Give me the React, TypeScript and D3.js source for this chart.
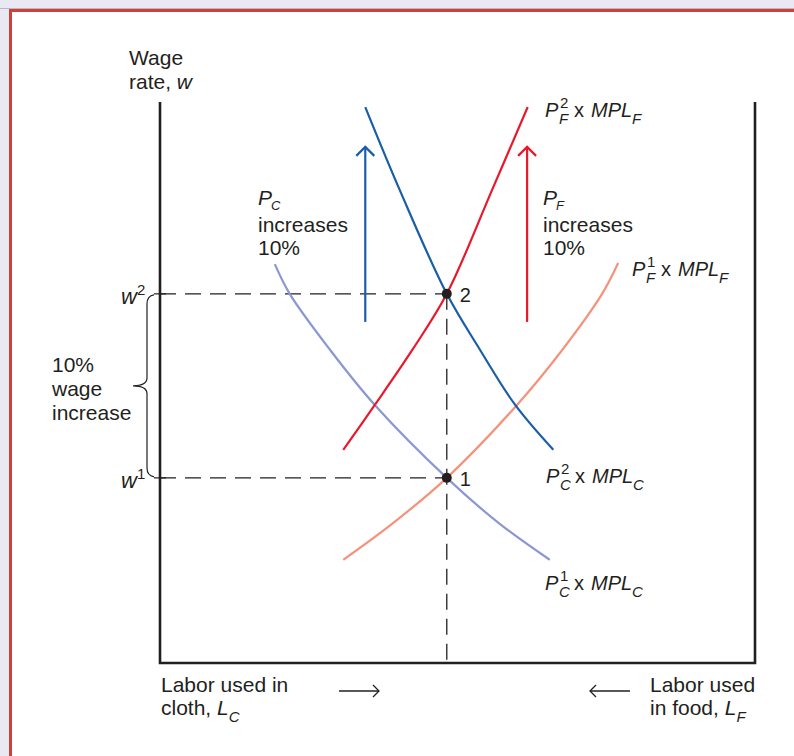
import React from "react";
import * as d3 from "d3";

// ---- data (labor units 0..100 along the box, wage units 0..100) ----
const laborEq = 48.2;
const wageLevels = [33.0, 65.8]; // w1, w2
const wageTickLabels = ["1", "2"];

const pc1X = [19.3, 21.8, 28.6, 36.1, 48.2, 57.1, 65.5];
const pc1Y = [71.1, 65.8, 55.8, 46.0, 33.0, 24.8, 18.4];

const pc2X = [34.5, 40.3, 48.2, 53.8, 59.7, 66.1];
const pc2Y = [99.1, 84.3, 65.8, 55.8, 46.0, 38.0];

const pf1X = [30.8, 39.0, 48.2, 60.0, 67.6, 74.3, 77.0];
const pf1Y = [18.4, 24.8, 33.0, 46.0, 55.8, 65.8, 71.3];

const pf2X = [30.8, 36.1, 42.4, 48.2, 55.8, 61.8];
const pf2Y = [38.0, 46.0, 55.8, 65.8, 84.3, 99.1];

const shiftArrowX = [34.5, 61.7]; // PC arrow, PF arrow
const shiftArrowY = [60.8, 92.0]; // from, to

const W = 794;
const H = 756;
const FONT = "'Liberation Sans', Arial, Helvetica, sans-serif";
const INK = "#231f20";

const C_DARKBLUE = "#1b5ea8";
const C_LIGHTBLUE = "#8a97d3";
const C_RED = "#e8192c";
const C_SALMON = "#f4937b";

const x = d3.scaleLinear().domain([0, 100]).range([160, 755]);
const y = d3.scaleLinear().domain([0, 100]).range([663, 102]);

const zip = (xs: number[], ys: number[]) => xs.map((v, i) => [v, ys[i]] as [number, number]);

const line = d3
  .line<[number, number]>()
  .x((d) => x(d[0]))
  .y((d) => y(d[1]))
  .curve(d3.curveCatmullRom.alpha(0.5));

function CurveLabel({ px, py, sub, sup }: { px: number; py: number; sub: string; sup: string }) {
  return (
    <g fontFamily={FONT} fill={INK}>
      <text x={px} y={py} fontSize={20} fontStyle="italic">P</text>
      <text x={px + 15} y={py - 9} fontSize={15}>{sup}</text>
      <text x={px + 14} y={py + 7} fontSize={15} fontStyle="italic">{sub}</text>
      <text x={px + 29} y={py} fontSize={20}>x</text>
      <text x={px + 46} y={py} fontSize={20} fontStyle="italic">MPL</text>
      <text x={px + 87} y={py + 7} fontSize={15} fontStyle="italic">{sub}</text>
    </g>
  );
}

function IncLabel({ px, py, sub }: { px: number; py: number; sub: string }) {
  return (
    <g fontFamily={FONT} fill={INK} fontSize={21}>
      <text x={px} y={py - 2} fontStyle="italic">P</text>
      <text x={px + 13} y={py + 3} fontSize={13} fontStyle="italic">{sub}</text>
      <text x={px} y={py + 25}>increases</text>
      <text x={px} y={py + 48}>10%</text>
    </g>
  );
}

function UpArrow({ lx, color }: { lx: number; color: string }) {
  const X = x(lx);
  const y0 = y(shiftArrowY[0]);
  const y1 = y(shiftArrowY[1]);
  return (
    <g stroke={color} strokeWidth={2.2} fill="none">
      <line x1={X} x2={X} y1={y0} y2={y1} />
      <path d={`M${X - 9},${y1 + 9} L${X},${y1} L${X + 9},${y1 + 9}`} />
    </g>
  );
}

export default function App() {
  const xe = x(laborEq);
  const yw1 = y(wageLevels[0]);
  const yw2 = y(wageLevels[1]);
  const braceX = 147;
  const braceMid = (yw1 + yw2) / 2;
  const brace = `M154,${yw2 + 1} Q${braceX},${yw2 + 2} ${braceX},${yw2 + 10} L${braceX},${braceMid - 8} Q${braceX},${braceMid} ${braceX - 14},${braceMid} Q${braceX},${braceMid} ${braceX},${braceMid + 8} L${braceX},${yw1 - 10} Q${braceX},${yw1 - 2} 154,${yw1 - 1}`;

  return (
    <svg
      width={W}
      height={H}
      viewBox={`0 0 ${W} ${H}`}
      style={{ position: "absolute", left: 0, top: 0, display: "block" }}
    >
      <rect x={0} y={0} width={W} height={H} fill="#e9e9f3" />
      <rect x={9} y={9} width={W} height={H} fill="#ffffff" />
      <line x1={0} x2={W} y1={8.5} y2={8.5} stroke="#b9b9c4" strokeWidth={1} />
      <line x1={10.5} x2={10.5} y1={9} y2={H} stroke="#cc4239" strokeWidth={3} />
      <line x1={9} x2={W} y1={10.5} y2={10.5} stroke="#cc4239" strokeWidth={3} />

      {/* dashed guides */}
      <g stroke={INK} strokeWidth={1.3} strokeDasharray="16 9" fill="none">
        <line x1={x(0)} x2={xe} y1={yw2} y2={yw2} />
        <line x1={x(0)} x2={xe} y1={yw1} y2={yw1} />
        <line x1={xe} x2={xe} y1={yw2} y2={y(0)} />
      </g>

      {/* ticks and brace */}
      <g stroke={INK} strokeWidth={1.2} fill="none">
        <line x1={154} x2={166} y1={yw2} y2={yw2} />
        <line x1={154} x2={166} y1={yw1} y2={yw1} />
        <path d={brace} />
      </g>

      {/* box axes */}
      <path
        d={`M${x(0)},${y(100)} L${x(0)},${y(0)} L${x(100)},${y(0)} L${x(100)},${y(100)}`}
        stroke={INK}
        strokeWidth={2.6}
        fill="none"
      />

      {/* curves */}
      <g fill="none" strokeWidth={2.2}>
        <path d={line(zip(pc1X, pc1Y)) || ""} stroke={C_LIGHTBLUE} />
        <path d={line(zip(pf1X, pf1Y)) || ""} stroke={C_SALMON} />
        <path d={line(zip(pf2X, pf2Y)) || ""} stroke={C_RED} />
        <path d={line(zip(pc2X, pc2Y)) || ""} stroke={C_DARKBLUE} />
      </g>

      <UpArrow lx={shiftArrowX[0]} color={C_DARKBLUE} />
      <UpArrow lx={shiftArrowX[1]} color={C_RED} />

      {/* equilibrium points */}
      {wageLevels.map((w, i) => (
        <g key={i}>
          <circle cx={xe} cy={y(w)} r={5} fill={INK} />
          <text x={xe + 13} y={y(w) + 8} fontFamily={FONT} fontSize={20} fill={INK}>
            {wageTickLabels[i]}
          </text>
          <text x={121} y={y(w) + 10} fontFamily={FONT} fontSize={22} fontStyle="italic" fill={INK}>
            w
          </text>
          <text x={137} y={y(w) + 1} fontFamily={FONT} fontSize={15} fill={INK}>
            {wageTickLabels[i]}
          </text>
        </g>
      ))}

      {/* text */}
      <g fontFamily={FONT} fontSize={21} fill={INK}>
        <text x={129} y={65}>Wage</text>
        <text x={129} y={89}>
          rate, <tspan fontStyle="italic">w</tspan>
        </text>

        <text x={52} y={372}>10%</text>
        <text x={52} y={396}>wage</text>
        <text x={52} y={420}>increase</text>

        <text x={161} y={692}>Labor used in</text>
        <text x={161} y={715}>
          cloth, <tspan fontStyle="italic">L</tspan>
          <tspan fontSize={15} fontStyle="italic" dy={7}>C</tspan>
        </text>
        <text x={650} y={692}>Labor used</text>
        <text x={650} y={715}>
          in food, <tspan fontStyle="italic">L</tspan>
          <tspan fontSize={15} fontStyle="italic" dy={7}>F</tspan>
        </text>
      </g>

      {/* direction arrows */}
      <g stroke={INK} strokeWidth={1.3} fill="none">
        <line x1={339} x2={379} y1={691} y2={691} />
        <path d="M373,685 L379,691 L373,697" />
        <line x1={590} x2={630} y1={691} y2={691} />
        <path d="M596,685 L590,691 L596,697" />
      </g>

      <IncLabel px={258} py={207} sub="C" />
      <IncLabel px={543} py={207} sub="F" />

      <CurveLabel px={545} py={117} sub="F" sup="2" />
      <CurveLabel px={632} py={276} sub="F" sup="1" />
      <CurveLabel px={546} py={483} sub="C" sup="2" />
      <CurveLabel px={545} py={590} sub="C" sup="1" />
    </svg>
  );
}
